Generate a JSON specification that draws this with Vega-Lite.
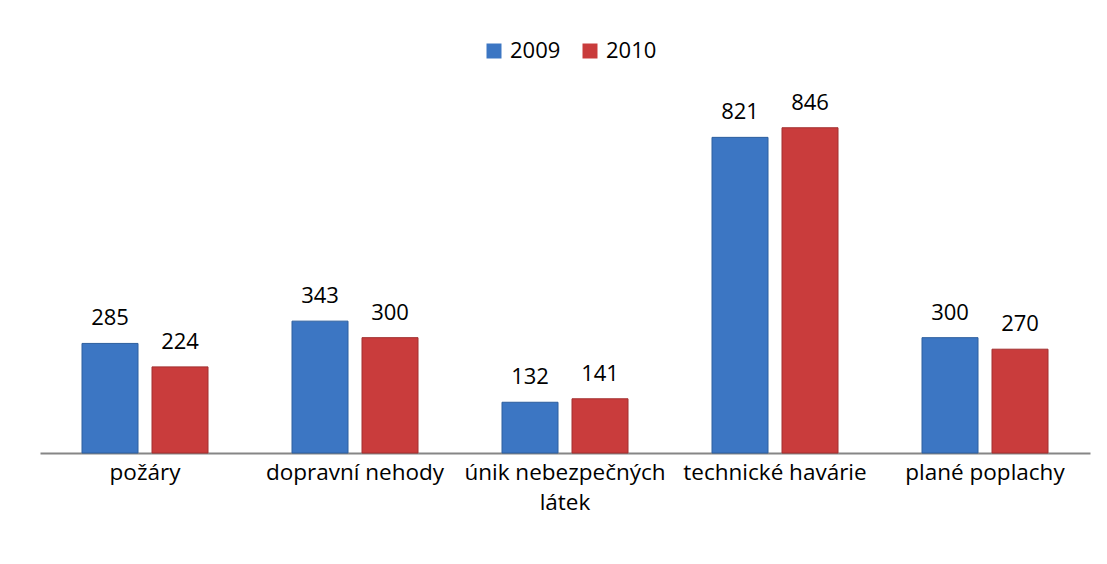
{
  "$schema": "https://vega.github.io/schema/vega-lite/v6.json",
  "autosize": {"type": "none"},
  "padding": {"left": 40, "top": 107, "right": 17, "bottom": 111},
  "width": 1050,
  "height": 346,
  "background": "white",
  "config": {
    "view": {"stroke": null},
    "font": "Open Sans"
  },
  "data": {
    "values": [
      {"kategorie": "požáry", "rok": "2009", "pocet": 285},
      {"kategorie": "požáry", "rok": "2010", "pocet": 224},
      {"kategorie": "dopravní nehody", "rok": "2009", "pocet": 343},
      {"kategorie": "dopravní nehody", "rok": "2010", "pocet": 300},
      {"kategorie": "únik nebezpečných látek", "rok": "2009", "pocet": 132},
      {"kategorie": "únik nebezpečných látek", "rok": "2010", "pocet": 141},
      {"kategorie": "technické havárie", "rok": "2009", "pocet": 821},
      {"kategorie": "technické havárie", "rok": "2010", "pocet": 846},
      {"kategorie": "plané poplachy", "rok": "2009", "pocet": 300},
      {"kategorie": "plané poplachy", "rok": "2010", "pocet": 270}
    ]
  },
  "encoding": {
    "x": {
      "field": "kategorie",
      "type": "nominal",
      "sort": null,
      "scale": {"paddingInner": 0.4, "paddingOuter": 0.2},
      "axis": {
        "title": null,
        "labelAngle": 0,
        "ticks": false,
        "domainColor": "#868686",
        "domainWidth": 2,
        "labelFontSize": 22.5,
        "labelColor": "#000000",
        "labelPadding": 8,
        "labelLineHeight": 30,
        "labelLimit": 300,
        "labelExpr": "datum.value == 'únik nebezpečných látek' ? ['únik nebezpečných', 'látek'] : datum.value"
      }
    },
    "xOffset": {
      "field": "rok",
      "type": "nominal",
      "scale": {"paddingInner": 0.2, "paddingOuter": 0}
    },
    "y": {
      "field": "pocet",
      "type": "quantitative",
      "scale": {"domain": [0, 900], "nice": false},
      "axis": null
    }
  },
  "layer": [
    {
      "mark": {"type": "bar", "strokeWidth": 1},
      "encoding": {
        "color": {
          "field": "rok",
          "type": "nominal",
          "scale": {"domain": ["2009", "2010"], "range": ["#3c76c3", "#c93c3c"]},
          "legend": {
            "title": null,
            "orient": "none",
            "direction": "horizontal",
            "legendX": 443,
            "legendY": -67,
            "symbolType": "square",
            "symbolSize": 225,
            "symbolStrokeWidth": 0,
            "labelFontSize": 22,
            "labelColor": "#000000",
            "columnPadding": 18,
            "labelOffset": 5
          }
        },
        "stroke": {
          "field": "rok",
          "type": "nominal",
          "scale": {"domain": ["2009", "2010"], "range": ["#2d5e9e", "#a22f2f"]},
          "legend": null
        }
      }
    },
    {
      "mark": {"type": "text", "baseline": "bottom", "dy": -13, "fontSize": 22, "color": "#000000"},
      "encoding": {
        "text": {"field": "pocet", "type": "quantitative"}
      }
    }
  ]
}
